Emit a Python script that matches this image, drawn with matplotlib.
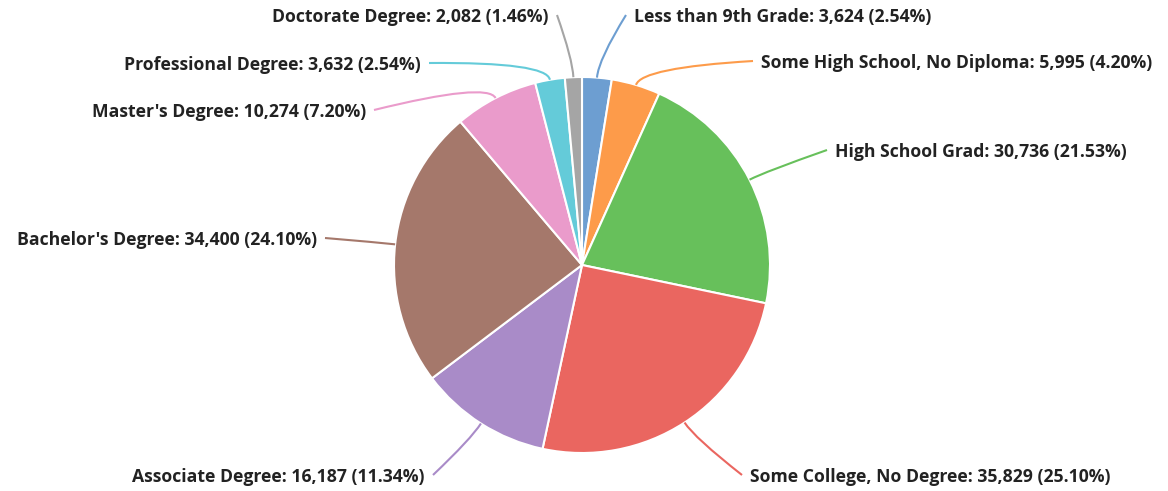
import numpy as np
import matplotlib.pyplot as plt
from matplotlib.path import Path
from matplotlib.patches import PathPatch

# data
categories = ["Less than 9th Grade", "Some High School, No Diploma", "High School Grad",
              "Some College, No Degree", "Associate Degree", "Bachelor's Degree",
              "Master's Degree", "Professional Degree", "Doctorate Degree"]
counts = [3624, 5995, 30736, 35829, 16187, 34400, 10274, 3632, 2082]
colors = ["#6d9ed1", "#fd9b4a", "#67c05b", "#ea6660", "#a98bc8",
          "#a5786b", "#ea9bcb", "#64cbd9", "#a5a5a5"]

# label anchors in image pixels (x, y from top) and text alignment
label_pos = [(634, 17), (761, 63), (835, 152), (750, 477), (425, 477),
             (317, 240), (366, 112), (421, 65), (549, 17)]
label_ha = ["left", "left", "left", "left", "right", "right", "right", "right", "right"]

W, H = 1168, 491
cx, cy, R = 582, 265, 188

fig = plt.figure(figsize=(W / 100, H / 100), dpi=100)
ax = fig.add_axes([0, 0, 1, 1])

wedges, _ = ax.pie(counts, colors=colors, startangle=90, counterclock=False,
                   center=(cx, H - cy), radius=R,
                   wedgeprops=dict(edgecolor="white", linewidth=1.5))
ax.set_xlim(0, W)
ax.set_ylim(0, H)
ax.set_aspect("equal")
ax.axis("off")

total = sum(counts)
for w, name, n, (lx, ly), ha, col in zip(wedges, categories, counts, label_pos, label_ha, colors):
    mid = np.deg2rad((w.theta1 + w.theta2) / 2)
    sx, sy = cx + R * np.cos(mid), (H - cy) + R * np.sin(mid)
    kx, ky = cx + (R + 18) * np.cos(mid), (H - cy) + (R + 18) * np.sin(mid)
    ex = lx - 8 if ha == "left" else lx + 8
    ey = H - ly + 2
    path = Path([(sx, sy), (kx, ky), (ex, ey)], [Path.MOVETO, Path.CURVE3, Path.CURVE3])
    ax.add_patch(PathPatch(path, facecolor="none", edgecolor=col, lw=1.5))
    txt = f"{name}: {n:,} ({n / total * 100:.2f}%)"
    ax.text(lx, H - ly, txt, ha=ha, va="center", fontsize=12.7, fontweight="bold",
            family="Open Sans", color="#222222")

fig.savefig("out.png", dpi=100)
